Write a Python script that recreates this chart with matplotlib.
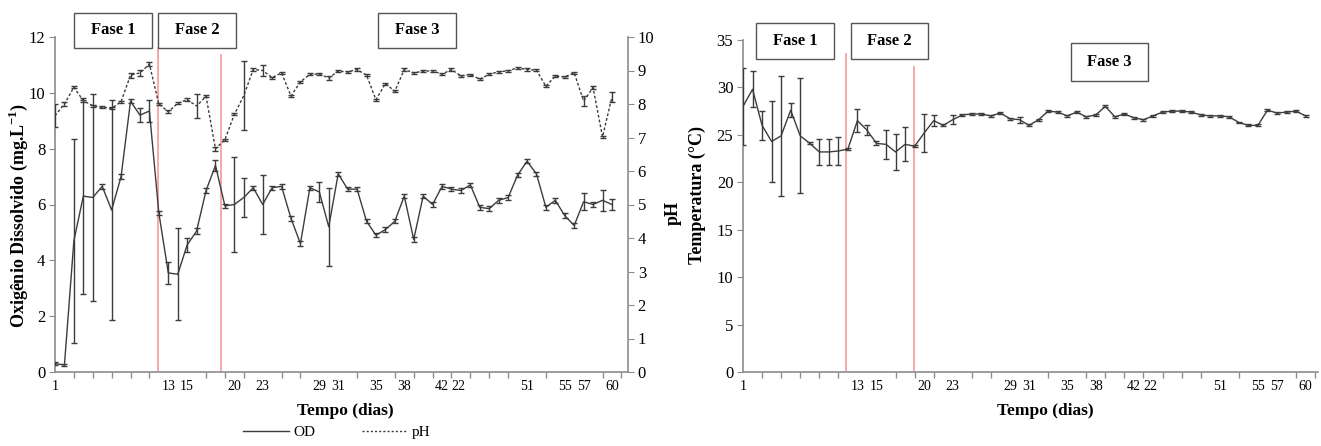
import matplotlib.pyplot as plt
from matplotlib.patches import Rectangle
from matplotlib.lines import Line2D
import numpy as np

plt.rcParams['font.family'] = ['Liberation Serif', 'DejaVu Serif']
plt.rcParams['mathtext.fontset'] = 'custom'
plt.rcParams['mathtext.rm'] = 'Liberation Serif'
plt.rcParams['mathtext.bf'] = 'Liberation Serif:bold'

# sample index (category axis, 60 samplings)
days = np.arange(1, 61)

# labels shown under the category axis (position, text)
label_pos = [1, 13, 15, 20, 23, 29, 31, 35, 38, 42, 43.7, 51, 55, 57, 60]
label_txt = ["1", "13", "15", "20", "23", "29", "31", "35", "38", "42", "22", "51", "55", "57", "60"]

# dissolved oxygen (mg/L)
od = [0.3, 0.25, 4.7, 6.3, 6.25, 6.65, 5.8, 7.0, 9.7, 9.2,
      9.35, 5.7, 3.55, 3.5, 4.55, 5.05, 6.5, 7.4, 5.95, 6.0,
      6.25, 6.6, 6.0, 6.6, 6.65, 5.5, 4.6, 6.6, 6.45, 5.2,
      7.1, 6.55, 6.55, 5.4, 4.9, 5.1, 5.4, 6.3, 4.75, 6.3,
      6.0, 6.65, 6.55, 6.5, 6.7, 5.9, 5.85, 6.15, 6.25, 7.05,
      7.55, 7.1, 5.9, 6.15, 5.6, 5.25, 6.1, 6.0, 6.15, 6.0]
od_err = [0.05, 0.05, 3.65, 3.5, 3.7, 0.08, 3.95, 0.08, 0.08, 0.25,
          0.4, 0.08, 0.4, 1.65, 0.25, 0.1, 0.08, 0.2, 0.08, 1.7,
          0.7, 0.08, 1.05, 0.08, 0.08, 0.08, 0.08, 0.08, 0.37, 1.4,
          0.08, 0.08, 0.08, 0.08, 0.08, 0.08, 0.08, 0.08, 0.08, 0.08,
          0.08, 0.08, 0.08, 0.08, 0.08, 0.08, 0.08, 0.08, 0.08, 0.08,
          0.08, 0.08, 0.08, 0.08, 0.08, 0.08, 0.3, 0.08, 0.37, 0.2]

# pH
ph = [7.65, 8.0, 8.5, 8.1, 7.95, 7.9, 7.87, 8.07, 8.86, 8.93,
      9.19, 8.0, 7.77, 8.02, 8.13, 7.94, 8.23, 6.66, 6.94, 7.69,
      8.25, 9.03, 9.0, 8.79, 8.93, 8.24, 8.66, 8.89, 8.89, 8.78,
      8.98, 8.96, 9.03, 8.86, 8.13, 8.61, 8.38, 9.03, 8.93, 8.98,
      8.99, 8.89, 9.03, 8.84, 8.88, 8.74, 8.89, 8.96, 8.99, 9.08,
      9.03, 9.01, 8.53, 8.83, 8.81, 8.93, 8.09, 8.49, 7.02, 8.21]
ph_err = [0.35, 0.05, 0.03, 0.03, 0.03, 0.03, 0.03, 0.03, 0.08, 0.08,
          0.05, 0.03, 0.05, 0.03, 0.05, 0.36, 0.03, 0.05, 0.03, 0.03,
          1.03, 0.03, 0.15, 0.03, 0.03, 0.03, 0.03, 0.03, 0.03, 0.05,
          0.03, 0.03, 0.03, 0.03, 0.03, 0.03, 0.03, 0.03, 0.03, 0.03,
          0.03, 0.03, 0.03, 0.03, 0.03, 0.03, 0.03, 0.03, 0.03, 0.03,
          0.03, 0.03, 0.03, 0.03, 0.03, 0.03, 0.15, 0.05, 0.03, 0.15]

# temperature (C)
temp = [28.0, 29.8, 26.0, 24.3, 24.9, 27.6, 24.9, 24.1, 23.2, 23.2,
        23.3, 23.5, 26.5, 25.5, 24.1, 24.0, 23.2, 24.0, 23.8, 25.2,
        26.5, 26.0, 26.6, 27.1, 27.2, 27.2, 27.0, 27.3, 26.7, 26.6,
        26.0, 26.6, 27.5, 27.4, 27.0, 27.4, 26.9, 27.1, 28.0, 26.9,
        27.2, 26.8, 26.6, 27.0, 27.4, 27.5, 27.5, 27.4, 27.1, 27.0,
        27.0, 26.9, 26.3, 26.0, 26.0, 27.6, 27.3, 27.4, 27.5, 27.0]
temp_err = [4.1, 1.9, 1.5, 4.25, 6.35, 0.75, 6.05, 0.1, 1.4, 1.4,
            1.5, 0.1, 1.2, 0.5, 0.2, 1.5, 1.9, 1.8, 0.1, 2.0,
            0.6, 0.1, 0.5, 0.1, 0.1, 0.1, 0.1, 0.1, 0.1, 0.3,
            0.1, 0.1, 0.1, 0.1, 0.1, 0.1, 0.1, 0.1, 0.1, 0.1,
            0.1, 0.1, 0.1, 0.1, 0.1, 0.1, 0.1, 0.1, 0.1, 0.1,
            0.1, 0.1, 0.1, 0.1, 0.1, 0.1, 0.1, 0.1, 0.1, 0.1]

# phase change markers (category position)
phase_left = [11.9, 18.6]
phase_right = [11.8, 18.9]

W, H = 1321, 446
line_col = '#3c3c3c'
spine_col = '#8c8c8c'
red = '#f4a3a3'


def fx(px):
    return px / W


def fy(py):
    return 1 - py / H


def style_axis(ax, xmax):
    ax.set_xlim(1, xmax)
    ax.set_xticks(label_pos)
    ax.set_xticklabels(label_txt, fontsize=10)
    ax.tick_params(axis='x', which='major', length=0, pad=6)
    ax.set_xticks(np.arange(1, 62, 2), minor=True)
    ax.tick_params(axis='x', which='minor', length=4, color=spine_col, width=1)
    ax.tick_params(axis='y', length=4, color=spine_col, labelsize=12, pad=3)
    ax.spines['top'].set_visible(False)
    for s in ['left', 'bottom', 'right']:
        ax.spines[s].set_color(spine_col)
        ax.spines[s].set_linewidth(1.2)


def add_box(x0, x1, y0, y1, txt):
    fig.add_artist(Rectangle((fx(x0), fy(y1)), (x1 - x0) / W, (y1 - y0) / H,
                             transform=fig.transFigure, facecolor='white',
                             edgecolor='#555555', lw=1, zorder=5))
    fig.text(fx((x0 + x1) / 2), fy((y0 + y1) / 2), txt, ha='center', va='center',
             fontsize=12, fontweight='bold', zorder=6)


fig = plt.figure(figsize=(W / 100, H / 100), dpi=100)

# ---- left panel: OD + pH
ax1 = fig.add_axes([fx(55), fy(372), (628 - 55) / W, (372 - 37) / H])
style_axis(ax1, 61.7)
ax1.set_ylim(0, 12)
ax1.set_yticks(range(0, 13, 2))
ax1.spines['right'].set_visible(False)
ax1.errorbar(days, od, yerr=od_err, color=line_col, lw=1, elinewidth=1,
             capsize=2.5, capthick=1, zorder=3)
for xv, top in zip(phase_left, [0.967, 0.946]):
    ax1.axvline(xv, ymax=top, color=red, lw=1.3, zorder=2)

ax2 = ax1.twinx()
ax2.set_xlim(1, 61.7)
ax2.set_ylim(0, 10)
ax2.set_yticks(range(0, 11))
ax2.spines['top'].set_visible(False)
ax2.spines['left'].set_visible(False)
ax2.spines['bottom'].set_visible(False)
ax2.spines['right'].set_color(spine_col)
ax2.spines['right'].set_linewidth(1.2)
ax2.tick_params(axis='y', length=4, color=spine_col, labelsize=12, pad=3)
ax2.errorbar(days, ph, yerr=ph_err, color=line_col, lw=1, ls=(0, (2, 1.5)),
             elinewidth=1, capsize=2.5, capthick=1)

fig.text(fx(18), fy(216), r'Oxigênio Dissolvido (mg.L$^{\mathbf{-1}}$)', rotation=90,
         ha='center', va='center', fontsize=13, fontweight='bold')
fig.text(fx(673), fy(213), 'pH', rotation=90, ha='center', va='center',
         fontsize=13, fontweight='bold')
fig.text(fx(345), fy(411), 'Tempo (dias)', ha='center', va='center',
         fontsize=12.5, fontweight='bold')

add_box(74, 152, 13, 48, 'Fase 1')
add_box(158, 236, 13, 48, 'Fase 2')
add_box(378, 456, 13, 48, 'Fase 3')

handles = [Line2D([], [], color=line_col, lw=1),
           Line2D([], [], color=line_col, lw=1, ls=(0, (1.5, 1.5)))]
fig.legend(handles, ['OD', 'pH'], loc='center', bbox_to_anchor=(fx(337), fy(432)),
           ncol=2, frameon=False, fontsize=11, handlelength=3.0, columnspacing=3,
           handletextpad=0.3)

# ---- right panel: temperature
ax3 = fig.add_axes([fx(743), fy(372), (1318 - 743) / W, (372 - 40) / H])
style_axis(ax3, 61.3)
ax3.spines['right'].set_visible(False)
ax3.set_ylim(0, 35)
ax3.set_yticks(range(0, 36, 5))
ax3.errorbar(days, temp, yerr=temp_err, color=line_col, lw=1, elinewidth=1,
             capsize=2.5, capthick=1, zorder=3)
for xv, top in zip(phase_right, [0.958, 0.92]):
    ax3.axvline(xv, ymax=top, color=red, lw=1.3, zorder=2)

fig.text(fx(697), fy(195), 'Temperatura (°C)', rotation=90, ha='center', va='center',
         fontsize=13, fontweight='bold')
fig.text(fx(1045), fy(411), 'Tempo (dias)', ha='center', va='center',
         fontsize=12.5, fontweight='bold')

add_box(756, 834, 23, 59, 'Fase 1')
add_box(851, 928, 23, 59, 'Fase 2')
add_box(1071, 1148, 43, 81, 'Fase 3')

fig.savefig('out.png', dpi=100, facecolor='white')
